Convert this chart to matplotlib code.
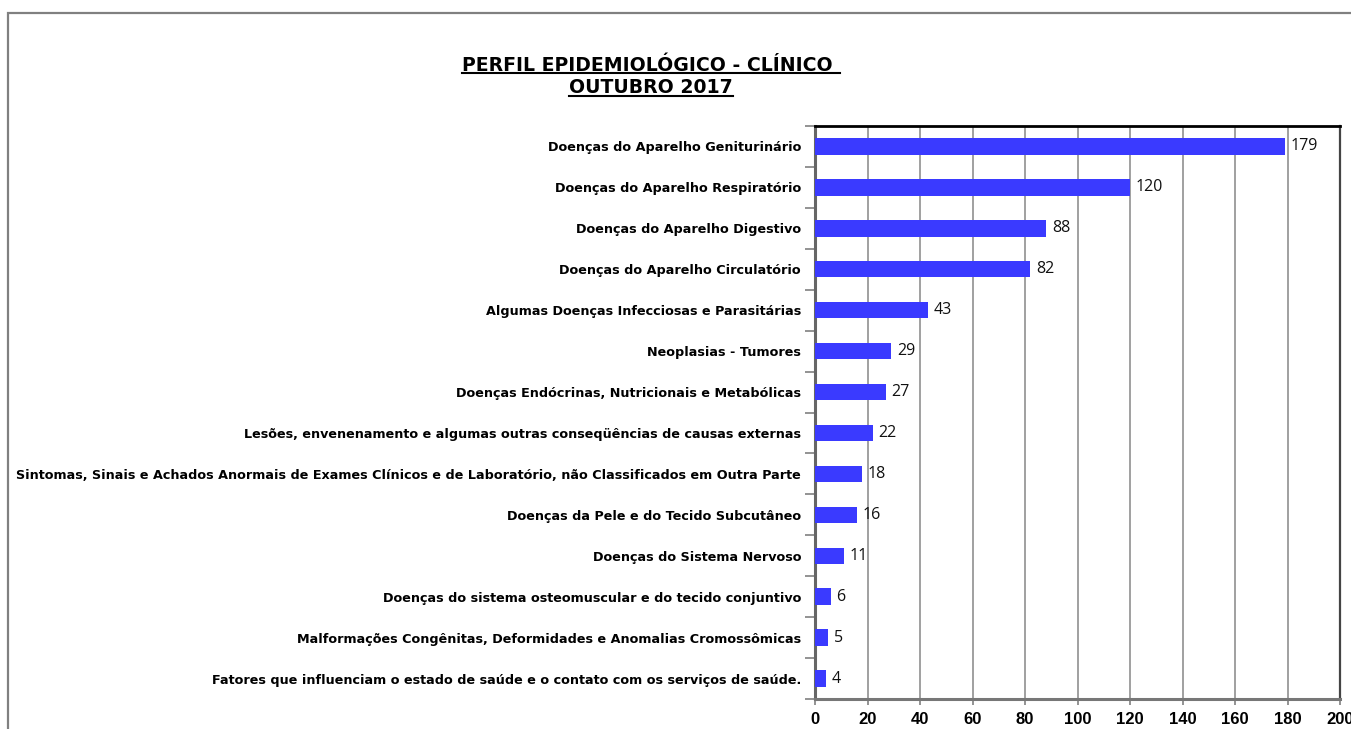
import matplotlib
matplotlib.use("Agg")
import matplotlib.pyplot as plt
from matplotlib.patches import Rectangle
from matplotlib.ticker import FixedLocator

categories = [
    "Doenças do Aparelho Geniturinário",
    "Doenças do Aparelho Respiratório",
    "Doenças do Aparelho Digestivo",
    "Doenças do Aparelho Circulatório",
    "Algumas Doenças Infecciosas e Parasitárias",
    "Neoplasias - Tumores",
    "Doenças Endócrinas, Nutricionais e Metabólicas",
    "Lesões, envenenamento e algumas outras conseqüências de causas externas",
    "Sintomas, Sinais e Achados Anormais de Exames Clínicos e de Laboratório, não Classificados em Outra Parte",
    "Doenças da Pele e do Tecido Subcutâneo",
    "Doenças do Sistema Nervoso",
    "Doenças do sistema osteomuscular e do tecido conjuntivo",
    "Malformações Congênitas, Deformidades e Anomalias Cromossômicas",
    "Fatores que influenciam o estado de saúde e o contato com os serviços de saúde.",
]
values = [179, 120, 88, 82, 43, 29, 27, 22, 18, 16, 11, 6, 5, 4]
xticks = [0, 20, 40, 60, 80, 100, 120, 140, 160, 180, 200]
title_lines = ["PERFIL EPIDEMIOLÓGICO - CLÍNICO ", "OUTUBRO 2017"]

W, H = 1351, 729
fig = plt.figure(figsize=(W / 100, H / 100), dpi=100)
fig.patch.set_facecolor("white")

# outer border (gray), clipped by figure edge on right/bottom
border = Rectangle((8 / W, -0.2), 1.5, (H - 13) / H + 0.2, transform=fig.transFigure,
                   fill=False, edgecolor="#808080", linewidth=1.6, clip_on=False)
fig.patches.append(border)

ax = fig.add_axes([815 / W, 1 - 699 / H, (1340 - 815) / W, (699 - 126) / H])
n = len(categories)
ypos = list(range(n))
ax.barh(ypos, values, height=0.4, color="#3A3AFF", edgecolor="none", zorder=3)
ax.set_ylim(n - 0.5, -0.5)
ax.set_xlim(0, 200)

ax.set_yticks(ypos)
ax.set_yticklabels(categories, fontfamily="DejaVu Sans", fontweight="bold", fontsize=9.2)
ax.tick_params(axis="y", which="major", length=0, pad=10)
ax.yaxis.set_minor_locator(FixedLocator([i - 0.5 for i in range(n + 1)]))
ax.tick_params(axis="y", which="minor", length=7, width=1.2, color="#808080", direction="out")

ax.set_xticks(xticks)
ax.set_xticklabels([str(t) for t in xticks], fontfamily="Liberation Sans",
                   fontweight="bold", fontsize=12)
ax.tick_params(axis="x", which="major", length=4, width=1.2, color="#808080",
               direction="out", pad=5)
ax.grid(axis="x", color="#999999", linewidth=1.3, zorder=0)
ax.set_axisbelow(True)

for side, col, lw in [("top", "#000000", 2.0), ("left", "#666666", 2.2),
                      ("bottom", "#777777", 2.2), ("right", "#444444", 1.6)]:
    ax.spines[side].set_color(col)
    ax.spines[side].set_linewidth(lw)

for y, v in zip(ypos, values):
    ax.text(v + 2.2, y, str(v), va="center", ha="left", fontfamily="Open Sans",
            fontsize=11.5, color="#111111")

# title with underline
baselines = [70.7, 93.3]
for line, b in zip(title_lines, baselines):
    t = fig.text(651 / W, 1 - b / H, line, ha="center", va="baseline", fontfamily="DejaVu Sans",
                 fontweight="bold", fontsize=13.6, color="black")
    fig.canvas.draw()
    bb = t.get_window_extent()
    uy = 1 - (b + 2.3) / H
    fig.add_artist(plt.Line2D([bb.x0 / W, bb.x1 / W], [uy, uy], transform=fig.transFigure,
                              color="black", linewidth=1.5))

fig.savefig("out.png", dpi=100)
